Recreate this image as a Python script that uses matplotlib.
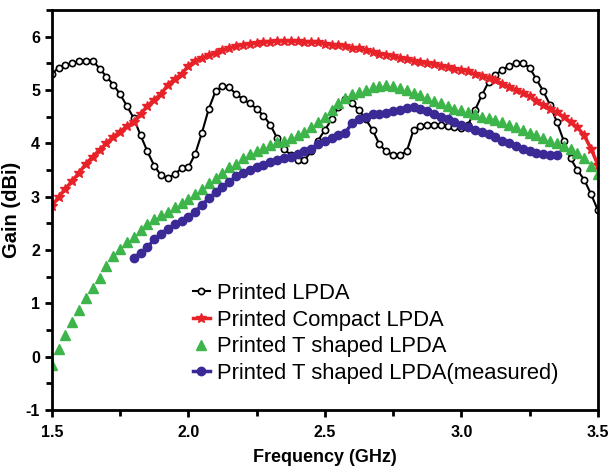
import numpy as np
import matplotlib
matplotlib.use("Agg")
import matplotlib.pyplot as plt
from matplotlib.ticker import MultipleLocator

plt.rcParams["font.family"] = ["Liberation Sans", "DejaVu Sans"]
plt.rcParams["axes.unicode_minus"] = False

# frequency grid (GHz)
freq = np.round(np.arange(1.5, 3.5001, 0.025), 3)
freq_meas = np.round(np.arange(1.8, 3.3501, 0.025), 3)

# gain (dBi)
gain_lpda = [
    5.30, 5.42, 5.47, 5.50, 5.54, 5.55, 5.55, 5.40, 5.25, 5.10,
    4.92, 4.70, 4.47, 4.15, 3.85, 3.58, 3.40, 3.35, 3.42, 3.53,
    3.55, 3.80, 4.20, 4.65, 4.98, 5.07, 5.05, 4.92, 4.83, 4.75,
    4.65, 4.52, 4.35, 4.10, 3.90, 3.78, 3.68, 3.68, 3.85, 4.05,
    4.25, 4.45, 4.68, 4.83, 4.75, 4.62, 4.45, 4.25, 3.98, 3.85,
    3.78, 3.78, 3.85, 4.25, 4.33, 4.35, 4.35, 4.35, 4.33, 4.30,
    4.28, 4.35, 4.62, 4.90, 5.15, 5.28, 5.38, 5.45, 5.50, 5.50,
    5.42, 5.20, 4.98, 4.72, 4.40, 4.05, 3.72, 3.50, 3.32, 3.05,
    2.75,
]
gain_compact = [
    2.82, 3.00, 3.15, 3.30, 3.45, 3.62, 3.75, 3.88, 4.00, 4.12,
    4.22, 4.32, 4.40, 4.55, 4.70, 4.82, 4.92, 5.10, 5.20, 5.30,
    5.45, 5.55, 5.60, 5.65, 5.70, 5.75, 5.78, 5.82, 5.85, 5.87,
    5.88, 5.90, 5.90, 5.92, 5.92, 5.92, 5.91, 5.90, 5.90, 5.89,
    5.87, 5.85, 5.84, 5.82, 5.78, 5.78, 5.75, 5.72, 5.68, 5.66,
    5.63, 5.60, 5.58, 5.55, 5.52, 5.50, 5.48, 5.45, 5.43, 5.40,
    5.38, 5.35, 5.30, 5.27, 5.22, 5.18, 5.12, 5.06, 5.00, 4.95,
    4.88, 4.80, 4.72, 4.65, 4.58, 4.50, 4.40, 4.30, 4.15, 3.90,
    3.60,
]
gain_t = [
    -0.15, 0.15, 0.40, 0.65, 0.88, 1.10, 1.28, 1.48, 1.70, 1.88,
    2.02, 2.15, 2.25, 2.38, 2.48, 2.58, 2.65, 2.72, 2.80, 2.88,
    2.96, 3.05, 3.15, 3.25, 3.35, 3.45, 3.55, 3.62, 3.72, 3.80,
    3.86, 3.92, 3.97, 4.02, 4.05, 4.10, 4.15, 4.22, 4.30, 4.40,
    4.50, 4.62, 4.75, 4.85, 4.92, 4.97, 5.00, 5.05, 5.08, 5.10,
    5.07, 5.03, 5.00, 4.95, 4.90, 4.85, 4.80, 4.75, 4.70, 4.65,
    4.62, 4.58, 4.55, 4.50, 4.47, 4.43, 4.40, 4.35, 4.30, 4.25,
    4.20, 4.15, 4.10, 4.05, 4.00, 3.95, 3.90, 3.82, 3.72, 3.58,
    3.42,
]
gain_t_meas = [
    1.85, 1.95, 2.05, 2.20, 2.30, 2.40, 2.48, 2.55, 2.62, 2.72,
    2.85, 2.97, 3.08, 3.18, 3.28, 3.38, 3.45, 3.50, 3.55, 3.60,
    3.65, 3.68, 3.72, 3.75, 3.80, 3.85, 3.90, 3.98, 4.05, 4.10,
    4.15, 4.20, 4.38, 4.45, 4.50, 4.55, 4.55, 4.57, 4.60, 4.62,
    4.67, 4.68, 4.65, 4.60, 4.55, 4.50, 4.45, 4.40, 4.35, 4.30,
    4.25, 4.22, 4.18, 4.12, 4.05, 4.00, 3.95, 3.90, 3.85, 3.82,
    3.80, 3.78, 3.78,
]

labels = [
    "Printed LPDA",
    "Printed Compact LPDA",
    "Printed T shaped LPDA",
    "Printed T shaped LPDA(measured)",
]


def main():
    fig = plt.figure(figsize=(6.1, 4.72), dpi=100)
    ax = fig.add_axes([0.085, 0.131, 0.895, 0.848])

    ax.plot(freq, gain_lpda, color="black", lw=1.5, marker="o", ms=4.5,
            mfc="white", mec="black", mew=1.2, label=labels[0])
    ax.plot(freq, gain_compact, color="#e82229", lw=2.5, marker="*", ms=7,
            mec="#e82229", label=labels[1])
    ax.plot(freq, gain_t, color="#3db54a", lw=0, marker="^", ms=6.5,
            mec="#3db54a", label=labels[2])
    ax.plot(freq_meas, gain_t_meas, color="#3b2a96", lw=2.5, marker="o", ms=6,
            mec="#3b2a96", label=labels[3])

    ax.set_xlim(1.5, 3.5)
    ax.set_ylim(-1, 6.5)
    ax.xaxis.set_major_locator(MultipleLocator(0.5))
    ax.xaxis.set_minor_locator(MultipleLocator(0.25))
    ax.yaxis.set_major_locator(MultipleLocator(1))
    ax.yaxis.set_minor_locator(MultipleLocator(0.5))
    ax.xaxis.set_major_formatter(plt.FormatStrFormatter("%.1f"))

    for s in ax.spines.values():
        s.set_linewidth(2)
    ax.tick_params(which="major", direction="out", length=5, width=2,
                   labelsize=11.5)
    ax.tick_params(which="minor", direction="out", length=4, width=2)
    ax.tick_params(axis="x", which="major", pad=6)
    for t in ax.get_xticklabels() + ax.get_yticklabels():
        t.set_fontweight("bold")

    ax.set_xlabel("Frequency (GHz)", fontsize=13, fontweight="bold", labelpad=6)
    ax.set_ylabel("Gain (dBi)", fontsize=14.5, fontweight="bold")
    ax.yaxis.set_label_coords(-0.057, 0.5)

    ax.legend(loc="upper left", bbox_to_anchor=(0.258, 0.318), frameon=False,
              fontsize=15.8, handlelength=0.8, handletextpad=0.3,
              labelspacing=0.26, borderpad=0, borderaxespad=0)

    fig.savefig("out.png", dpi=100)
    plt.close(fig)


if __name__ == "__main__":
    main()
